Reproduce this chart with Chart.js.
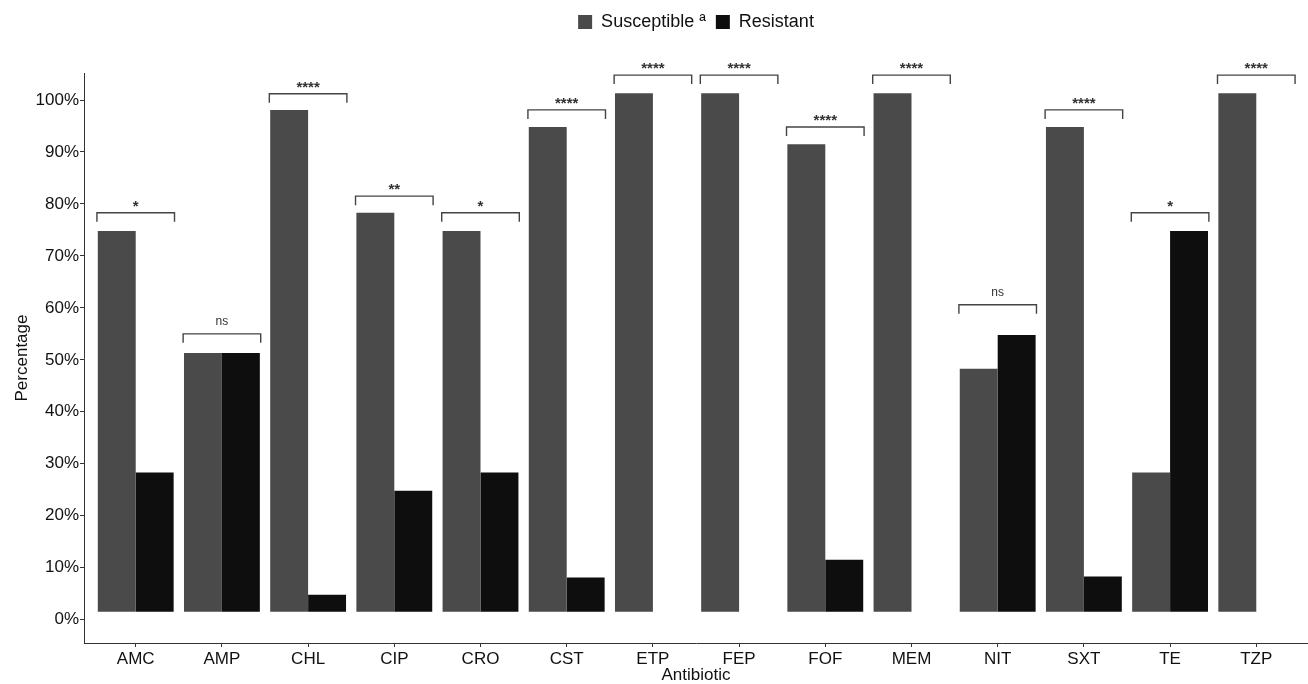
<!DOCTYPE html>
<html>
<head>
<meta charset="utf-8">
<script src="https://cdn.jsdelivr.net/npm/chart.js@4"></script>
<style>
  body { margin: 0; background: #fff; }
  #wrap { width: 1308px; height: 684px; }
</style>
</head>
<body>
<div id="wrap"><canvas id="chart"></canvas></div>
<script>
const categories = ['AMC', 'AMP', 'CHL', 'CIP', 'CRO', 'CST', 'ETP', 'FEP', 'FOF', 'MEM', 'NIT', 'SXT', 'TE', 'TZP'];
const susceptible = [74.8, 51.3, 98.1, 78.3, 74.8, 94.8, 101.3, 101.3, 91.5, 101.3, 48.3, 94.8, 28.3, 101.3];
const resistant = [28.3, 51.3, 4.8, 24.8, 28.3, 8.1, 0, 0, 11.5, 0, 54.8, 8.3, 74.8, 0];
const significance = ['*', 'ns', '****', '**', '*', '****', '****', '****', '****', '****', 'ns', '****', '*', '****'];
const bracketY = [78.3, 55.0, 101.2, 81.5, 78.3, 98.1, 104.8, 104.8, 94.8, 104.8, 60.6, 98.1, 78.3, 104.8];
const yTicks = [0, 10, 20, 30, 40, 50, 60, 70, 80, 90, 100];

Chart.defaults.font.family = '"Liberation Sans", Arial, sans-serif';
Chart.defaults.color = '#222';

// leave a gap under the legend
const legendGap = {
  id: 'legendGap',
  beforeUpdate(chart) {
    const lg = chart.legend;
    if (lg && !lg._gapPatched) {
      const fit = lg.fit;
      lg.fit = function () { fit.call(this); this.height += 32; };
      lg._gapPatched = true;
    }
  }
};

// significance brackets drawn over the bars
const brackets = {
  id: 'brackets',
  afterDatasetsDraw(chart) {
    const ctx = chart.ctx;
    const xs = chart.scales.x;
    const ys = chart.scales.y;
    ctx.save();
    ctx.strokeStyle = '#444';
    ctx.lineWidth = 1.4;
    ctx.fillStyle = '#333';
    ctx.textAlign = 'center';
    categories.forEach((c, i) => {
      const x0 = xs.getPixelForValue(i - 0.45);
      const x1 = xs.getPixelForValue(i + 0.45);
      const y = ys.getPixelForValue(bracketY[i]);
      ctx.beginPath();
      ctx.moveTo(x0, y + 9);
      ctx.lineTo(x0, y);
      ctx.lineTo(x1, y);
      ctx.lineTo(x1, y + 9);
      ctx.stroke();
      const mid = (x0 + x1) / 2;
      if (significance[i] === 'ns') {
        ctx.font = '12px "Liberation Sans", Arial, sans-serif';
        ctx.textBaseline = 'middle';
        ctx.fillText('ns', mid, y - 12);
      } else {
        ctx.font = 'bold 15px "Liberation Sans", Arial, sans-serif';
        ctx.textBaseline = 'alphabetic';
        ctx.fillText(significance[i], mid, y - 2);
      }
    });
    ctx.restore();
  }
};

new Chart(document.getElementById('chart'), {
  type: 'bar',
  data: {
    datasets: [{
      label: 'Susceptible \u00AA',
      data: susceptible.map((v, i) => ({x: i, y: v})),
      backgroundColor: '#4a4a4a',
      base: 1.5
    }, {
      label: 'Resistant',
      data: resistant.map((v, i) => ({x: i, y: v > 0 ? v : null})),
      backgroundColor: '#0e0e0e',
      base: 1.5
    }]
  },
  options: {
    responsive: true,
    maintainAspectRatio: false,
    animation: false,
    categoryPercentage: 0.88,
    barPercentage: 1.0,
    layout: { padding: { top: 3, right: 0, bottom: 0, left: 0 } },
    plugins: {
      legend: {
        position: 'top',
        fullSize: false,
        labels: { boxWidth: 14, boxHeight: 14, padding: 10, font: { size: 18 }, color: '#111' }
      },
      tooltip: { enabled: false }
    },
    scales: {
      x: {
        type: 'linear',
        offset: false,
        min: -0.6,
        max: 13.6,
        grid: { display: true, drawOnChartArea: false, drawTicks: true, tickLength: 4, tickColor: '#333', offset: false },
        border: { display: true, color: '#333', width: 1 },
        afterBuildTicks: (s) => { s.ticks = categories.map((c, i) => ({value: i})); },
        ticks: {
          autoSkip: false, maxRotation: 0, padding: 2,
          font: { size: 17 }, color: '#111',
          callback: (v) => categories[v]
        },
        title: { display: true, text: 'Antibiotic', font: { size: 17, lineHeight: 1 }, color: '#111', padding: { top: 4, bottom: 0 } },
        afterFit: (s) => { s.height = 41; }
      },
      y: {
        min: -4.5,
        max: 105.2,
        grid: { display: true, drawOnChartArea: false, drawTicks: true, tickLength: 4, tickColor: '#333' },
        border: { display: true, color: '#333', width: 1 },
        afterBuildTicks: (s) => { s.ticks = yTicks.map(v => ({value: v})); },
        ticks: { padding: 1, font: { size: 17 }, color: '#111', callback: (v) => v + '%' },
        title: { display: true, text: 'Percentage', font: { size: 17 }, color: '#111', padding: { top: 12, bottom: 4 } },
        afterFit: (s) => { s.width = 84; }
      }
    }
  },
  plugins: [legendGap, brackets]
});
</script>
</body>
</html>
